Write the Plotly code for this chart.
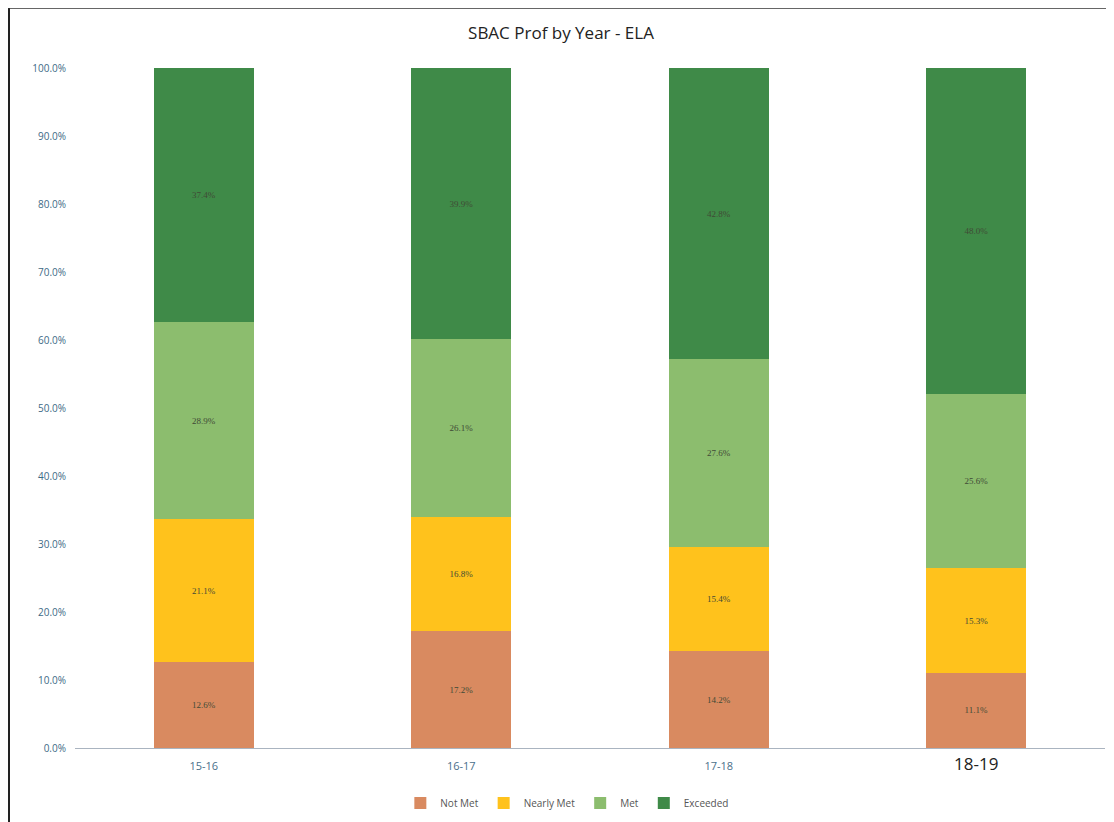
import plotly.graph_objects as go

years = ["15-16", "16-17", "17-18", "18-19"]
not_met = [12.6, 17.2, 14.2, 11.1]
nearly_met = [21.1, 16.8, 15.4, 15.3]
met = [28.9, 26.1, 27.6, 25.6]
exceeded = [37.4, 39.9, 42.8, 48.0]

series = [
    ("Not Met", not_met, "#d98a60"),
    ("Nearly Met", nearly_met, "#ffc21c"),
    ("Met", met, "#8cbd6e"),
    ("Exceeded", exceeded, "#3f8a48"),
]

fig = go.Figure()
for name, vals, color in series:
    fig.add_trace(go.Bar(
        x=years, y=vals, name=name,
        marker=dict(color=color, line=dict(width=0)),
        text=[f"{v:.1f}%" for v in vals],
        textposition="inside", insidetextanchor="middle",
        textfont=dict(size=9, color="#3f4a36", family="Liberation Serif"),
    ))

ticktext = [f"<span style='color:#4a6f8a'>{y}</span>" for y in years[:-1]] + \
    ["<span style='font-size:17px;color:#222222'>18-19</span>"]

W, H = 1106, 818
L, R, T, B = 67, 9, 60, 74
pw, ph = W - L - R, 680

def px(x):
    return (x - L) / pw

def py(y):
    return (T + ph - y) / ph

fig.update_layout(
    barmode="stack",
    bargap=0.61,
    width=W, height=H,
    margin=dict(l=L, r=R, t=T, b=B),
    paper_bgcolor="white", plot_bgcolor="white",
    title=dict(text="SBAC Prof by Year - ELA", x=0.5, xanchor="center",
               y=1 - 25 / H, yanchor="middle",
               font=dict(family="Open Sans", size=17, color="#222222")),
    font=dict(family="Open Sans"),
    showlegend=True,
    legend=dict(orientation="h", x=0.478, xanchor="center", y=py(795), yanchor="middle",
                font=dict(size=10, color="#555555"), traceorder="normal",
                itemwidth=30),
    xaxis=dict(tickmode="array", tickvals=years, ticktext=ticktext,
               tickfont=dict(size=11), showline=True, linecolor="#aab4c0",
               linewidth=1, ticks="", showgrid=False, ticklabelstandoff=8),
    yaxis=dict(range=[0, 100], tickvals=list(range(0, 101, 10)),
               ticktext=[f"{v}.0%" for v in range(0, 101, 10)],
               tickfont=dict(size=10, color="#3d6a86"), showgrid=False,
               zeroline=False, showline=False, ticklabelstandoff=8),
    shapes=[
        dict(type="line", xref="paper", yref="paper",
             x0=px(1), x1=px(1), y0=py(0), y1=py(H),
             line=dict(color="#222222", width=2)),
        dict(type="line", xref="paper", yref="paper",
             x0=px(0), x1=px(W), y0=py(0), y1=py(0),
             line=dict(color="#333333", width=1.5)),
        dict(type="line", xref="paper", yref="paper",
             x0=px(1101), x1=px(1101), y0=py(0), y1=py(800),
             line=dict(color="#bbbbbb", width=1)),
    ],
)

fig.write_html("out.html")
